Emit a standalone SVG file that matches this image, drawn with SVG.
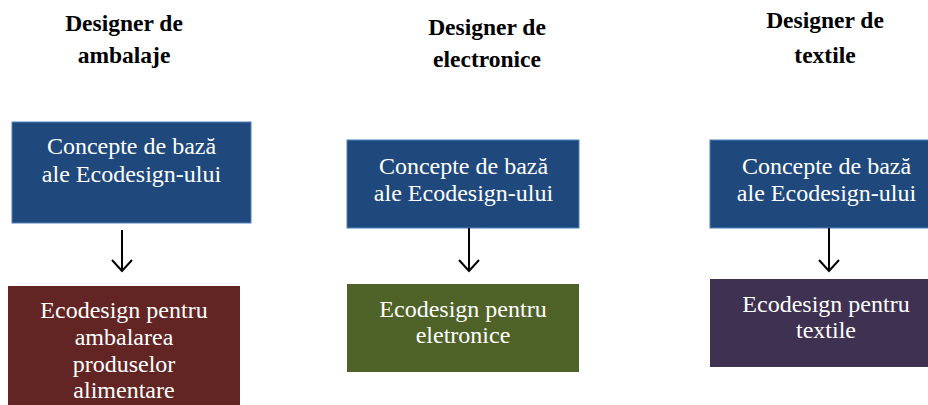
<svg xmlns="http://www.w3.org/2000/svg" width="928" height="405" viewBox="0 0 928 405">
<defs>
<style>
text{font-family:'Liberation Serif','Times New Roman','DejaVu Serif',serif;font-size:24px;text-anchor:middle}
.h{font-weight:bold;fill:#000;font-size:23.5px}
.t{fill:#fff}
.blue{fill:#1F497D;stroke:#4F81BD;stroke-width:1}
.con{stroke:#000;stroke-width:2;fill:none}
</style>
</defs>
<rect width="928" height="405" fill="#fff"/>
<g id="headers">
<text class="h" x="124" y="31">Designer de</text>
<text class="h" x="124" y="63">ambalaje</text>
<text class="h" x="487" y="35">Designer de</text>
<text class="h" x="487" y="67">electronice</text>
<text class="h" x="825" y="28">Designer de</text>
<text class="h" x="825" y="63">textile</text>
</g>
<g id="concept1">
<rect class="blue" x="12" y="122" width="239" height="101"/>
<text class="t" x="131.5" y="154">Concepte de bază</text>
<text class="t" x="131.5" y="182">ale Ecodesign-ului</text>
</g>
<g id="ambalaje">
<rect x="8" y="286" width="232" height="125" fill="#632523"/>
<text class="t" x="124" y="318">Ecodesign pentru</text>
<text class="t" x="124" y="345">ambalarea</text>
<text class="t" x="124" y="372">produselor</text>
<text class="t" x="124" y="398">alimentare</text>
</g>
<g id="concept2">
<rect class="blue" x="347" y="140" width="232" height="88"/>
<text class="t" x="463.5" y="174">Concepte de bază</text>
<text class="t" x="463.5" y="201">ale Ecodesign-ului</text>
</g>
<g id="electronice">
<rect x="347" y="284" width="232" height="88" fill="#4F6228"/>
<text class="t" x="463" y="317">Ecodesign pentru</text>
<text class="t" x="463" y="343">eletronice</text>
</g>
<g id="concept3">
<rect class="blue" x="710" y="140" width="222" height="88"/>
<text class="t" x="826.5" y="174">Concepte de bază</text>
<text class="t" x="826.5" y="201">ale Ecodesign-ului</text>
</g>
<g id="textile">
<rect x="710" y="279" width="222" height="88" fill="#3F3151"/>
<text class="t" x="826" y="312">Ecodesign pentru</text>
<text class="t" x="826" y="338">textile</text>
</g>
<g id="connectors">
<path class="con" d="M122 230V271M112 260L122 271L132 260"/>
<path class="con" d="M469 228V271M459 260L469 271L479 260"/>
<path class="con" d="M829 228V271M819 260L829 271L839 260"/>
</g>
</svg>
